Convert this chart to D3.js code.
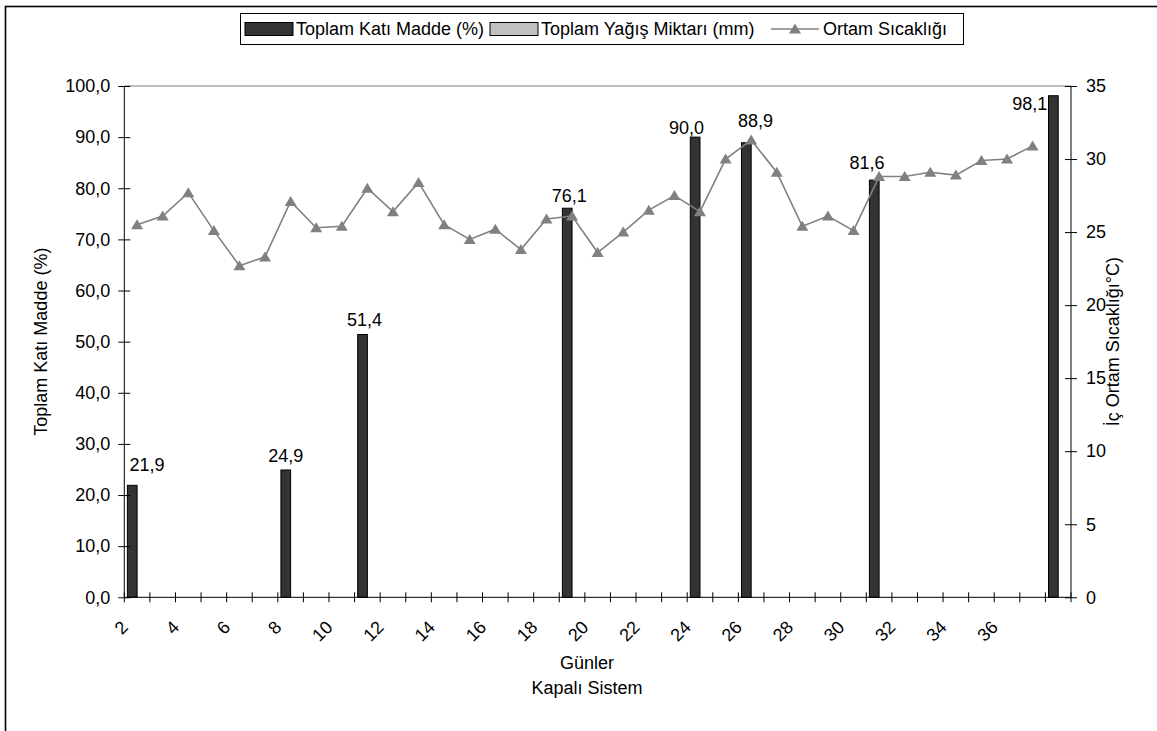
<!DOCTYPE html>
<html>
<head>
<meta charset="utf-8">
<script src="https://cdn.jsdelivr.net/npm/d3@7"></script>
<style>
  html, body { margin: 0; padding: 0; background: #fff; }
  svg { display: block; font-family: "Liberation Sans", Arial, sans-serif; }
</style>
</head>
<body>
<svg id="chart" width="1157" height="731"></svg>
<script>
// Days of the trial (category axis)
const days = [2, 3, 4, 5, 6, 7, 8, 9, 10, 11, 12, 13, 14, 15, 16, 17, 18, 19, 20,
              21, 22, 23, 24, 25, 26, 27, 28, 29, 30, 31, 32, 33, 34, 35, 36, 37, 38];
// Day labels printed under the axis
const dayTickLabels = [2, 4, 6, 8, 10, 12, 14, 16, 18, 20, 22, 24, 26, 28, 30, 32, 34, 36];
// Total solids (%) — measured on selected days only
const toplamKatiMadde = [21.9, null, null, null, null, null, 24.9, null, null, 51.4,
                         null, null, null, null, null, null, null, 76.1, null, null,
                         null, null, 90.0, null, 88.9, null, null, null, null, 81.6,
                         null, null, null, null, null, null, 98.1];
// Total rainfall (mm) — no readings in the closed system
const toplamYagis = [];
// Indoor ambient temperature (°C)
const ortamSicakligi = [25.5, 26.1, 27.7, 25.1, 22.7, 23.3, 27.1, 25.3, 25.4, 28.0,
                        26.4, 28.4, 25.5, 24.5, 25.2, 23.8, 25.9, 26.1, 23.6, 25.0,
                        26.5, 27.5, 26.4, 30.0, 31.3, 29.1, 25.4, 26.1, 25.1, 28.8,
                        28.8, 29.1, 28.9, 29.9, 30.0, 30.9, null];
const seriesNames = ["Toplam Katı Madde (%)", "Toplam Yağış Miktarı (mm)", "Ortam Sıcaklığı"];
const leftTicks = [0, 10, 20, 30, 40, 50, 60, 70, 80, 90, 100];
const rightTicks = [0, 5, 10, 15, 20, 25, 30, 35];

const svg = d3.select("#chart");
const FONT = 18;
const plot = { left: 124.3, right: 1071, top: 86, bottom: 597.3 };

const comma1 = v => d3.format(".1f")(v).replace(".", ",");

const x = d3.scaleBand().domain(days).range([plot.left, plot.right]).padding(0);
const sub = d3.scaleBand().domain(seriesNames.slice(0, 2))
  .range([0, x.bandwidth()]).paddingInner(0).paddingOuter(0.32);
const yL = d3.scaleLinear().domain([0, 100]).range([plot.bottom, plot.top]);
const yR = d3.scaleLinear().domain([0, 35]).range([plot.bottom, plot.top]);

// outer chart frame
svg.append("rect").attr("x", 5.5).attr("y", 6.5).attr("width", 1160).attr("height", 740)
  .attr("fill", "#fff").attr("stroke", "#000").attr("stroke-width", 1.6);

// plot area top border
svg.append("line").attr("x1", plot.left).attr("x2", plot.right)
  .attr("y1", plot.top).attr("y2", plot.top)
  .attr("stroke", "#808080").attr("stroke-width", 1);

// bars
const colors = { [seriesNames[0]]: "#333333", [seriesNames[1]]: "#c0c0c0" };
function drawBars(values, name) {
  const pts = days.map((d, i) => ({ day: d, v: values[i] })).filter(p => p.v != null);
  svg.append("g").selectAll("rect").data(pts).join("rect")
    .attr("x", p => x(p.day) + sub(name))
    .attr("width", sub.bandwidth())
    .attr("y", p => yL(p.v))
    .attr("height", p => yL(0) - yL(p.v))
    .attr("fill", colors[name]).attr("stroke", "#000").attr("stroke-width", 1);
  return pts;
}
const solidPts = drawBars(toplamKatiMadde, seriesNames[0]);
drawBars(toplamYagis, seriesNames[1]);

// temperature line with triangle markers
const tempPts = days.map((d, i) => ({ day: d, v: ortamSicakligi[i] })).filter(p => p.v != null);
const cx = d => x(d) + x.bandwidth() / 2;
svg.append("path").datum(tempPts)
  .attr("d", d3.line().x(p => cx(p.day)).y(p => yR(p.v)))
  .attr("fill", "none").attr("stroke", "#808080").attr("stroke-width", 1.6);
const tri = "M0,-5.5L6,4.5L-6,4.5Z";
svg.append("g").selectAll("path").data(tempPts).join("path")
  .attr("d", tri)
  .attr("transform", p => `translate(${cx(p.day)},${yR(p.v)})`)
  .attr("fill", "#808080");

// value labels above the solids bars (a few shifted clear of the line)
const labelShift = { 2: [14.7, -6.3], 11: [2, -1], 19: [2, 1], 24: [-8.7, 4.4],
                     26: [9.1, -8], 31: [-7.3, -3.1], 38: [-23.5, 22] };
svg.append("g").selectAll("text").data(solidPts).join("text")
  .attr("x", p => x(p.day) + sub(seriesNames[0]) + sub.bandwidth() / 2 + (labelShift[p.day] || [0, 0])[0])
  .attr("y", p => yL(p.v) - 14 + (labelShift[p.day] || [0, 0])[1])
  .attr("dy", "0.35em").attr("text-anchor", "middle")
  .attr("font-size", FONT).attr("fill", "#000")
  .text(p => comma1(p.v));

// left axis
const gL = svg.append("g").attr("transform", `translate(${plot.left},0)`)
  .call(d3.axisLeft(yL).tickValues(leftTicks).tickFormat(comma1).tickSize(6).tickPadding(8));
gL.select(".domain").attr("d", `M0,${plot.top}V${plot.bottom}`).attr("stroke", "#000");
gL.selectAll(".tick line").attr("x1", -6).attr("x2", 6).attr("stroke", "#000");
gL.selectAll(".tick text").attr("font-size", FONT).attr("font-family", "Liberation Sans, Arial, sans-serif").attr("fill", "#000");

// right axis
const gR = svg.append("g").attr("transform", `translate(${plot.right},0)`)
  .call(d3.axisRight(yR).tickValues(rightTicks).tickSize(6).tickPadding(9));
gR.select(".domain").attr("d", `M0,${plot.top}V${plot.bottom}`).attr("stroke", "#000");
gR.selectAll(".tick line").attr("x1", -6).attr("x2", 6).attr("stroke", "#000");
gR.selectAll(".tick text").attr("font-size", FONT).attr("font-family", "Liberation Sans, Arial, sans-serif").attr("fill", "#000");

// category axis: line, boundary ticks, rotated day labels
const gX = svg.append("g");
gX.append("line").attr("x1", plot.left).attr("x2", plot.right)
  .attr("y1", plot.bottom).attr("y2", plot.bottom).attr("stroke", "#000");
const bounds = days.map(d => x(d)).concat([plot.right]);
gX.selectAll("line.tk").data(bounds).join("line").attr("class", "tk")
  .attr("x1", b => b).attr("x2", b => b)
  .attr("y1", plot.bottom - 5).attr("y2", plot.bottom + 5)
  .attr("stroke", "#000");
gX.selectAll("text").data(dayTickLabels).join("text")
  .attr("transform", d => `translate(${cx(d) - 8},${plot.bottom + 31}) rotate(-45)`)
  .attr("text-anchor", "end").attr("font-size", FONT).attr("fill", "#000")
  .text(d => d);

// axis titles
const midY = (plot.top + plot.bottom) / 2;
svg.append("text").attr("transform", `translate(41,${midY}) rotate(-90)`)
  .attr("text-anchor", "middle").attr("dy", "0.35em").attr("font-size", FONT)
  .text("Toplam Katı Madde (%)");
svg.append("text").attr("transform", `translate(1113,${midY}) rotate(-90)`)
  .attr("text-anchor", "middle").attr("dy", "0.35em").attr("font-size", FONT)
  .text("İç Ortam Sıcaklığı°C)");
svg.append("text").attr("x", 587).attr("y", 663).attr("dy", "0.35em")
  .attr("text-anchor", "middle").attr("font-size", FONT).text("Günler");
svg.append("text").attr("x", 587).attr("y", 688).attr("dy", "0.35em")
  .attr("text-anchor", "middle").attr("font-size", FONT).text("Kapalı Sistem");

// legend
const lg = svg.append("g");
lg.append("rect").attr("x", 240.5).attr("y", 13.5).attr("width", 723).attr("height", 31)
  .attr("fill", "#fff").attr("stroke", "#000").attr("stroke-width", 1);
const ly = 29;
lg.append("rect").attr("x", 245).attr("y", ly - 6.5).attr("width", 48).attr("height", 13)
  .attr("fill", colors[seriesNames[0]]).attr("stroke", "#000");
lg.append("text").attr("x", 296).attr("y", ly).attr("dy", "0.35em").attr("font-size", FONT).text(seriesNames[0]);
lg.append("rect").attr("x", 490).attr("y", ly - 6.5).attr("width", 48).attr("height", 13)
  .attr("fill", colors[seriesNames[1]]).attr("stroke", "#000");
lg.append("text").attr("x", 541).attr("y", ly).attr("dy", "0.35em").attr("font-size", FONT).text(seriesNames[1]);
lg.append("line").attr("x1", 771).attr("x2", 819).attr("y1", ly).attr("y2", ly)
  .attr("stroke", "#808080").attr("stroke-width", 1.6);
lg.append("path").attr("d", tri).attr("transform", `translate(795,${ly})`).attr("fill", "#808080");
lg.append("text").attr("x", 823).attr("y", ly).attr("dy", "0.35em").attr("font-size", FONT).text(seriesNames[2]);
</script>
</body>
</html>
